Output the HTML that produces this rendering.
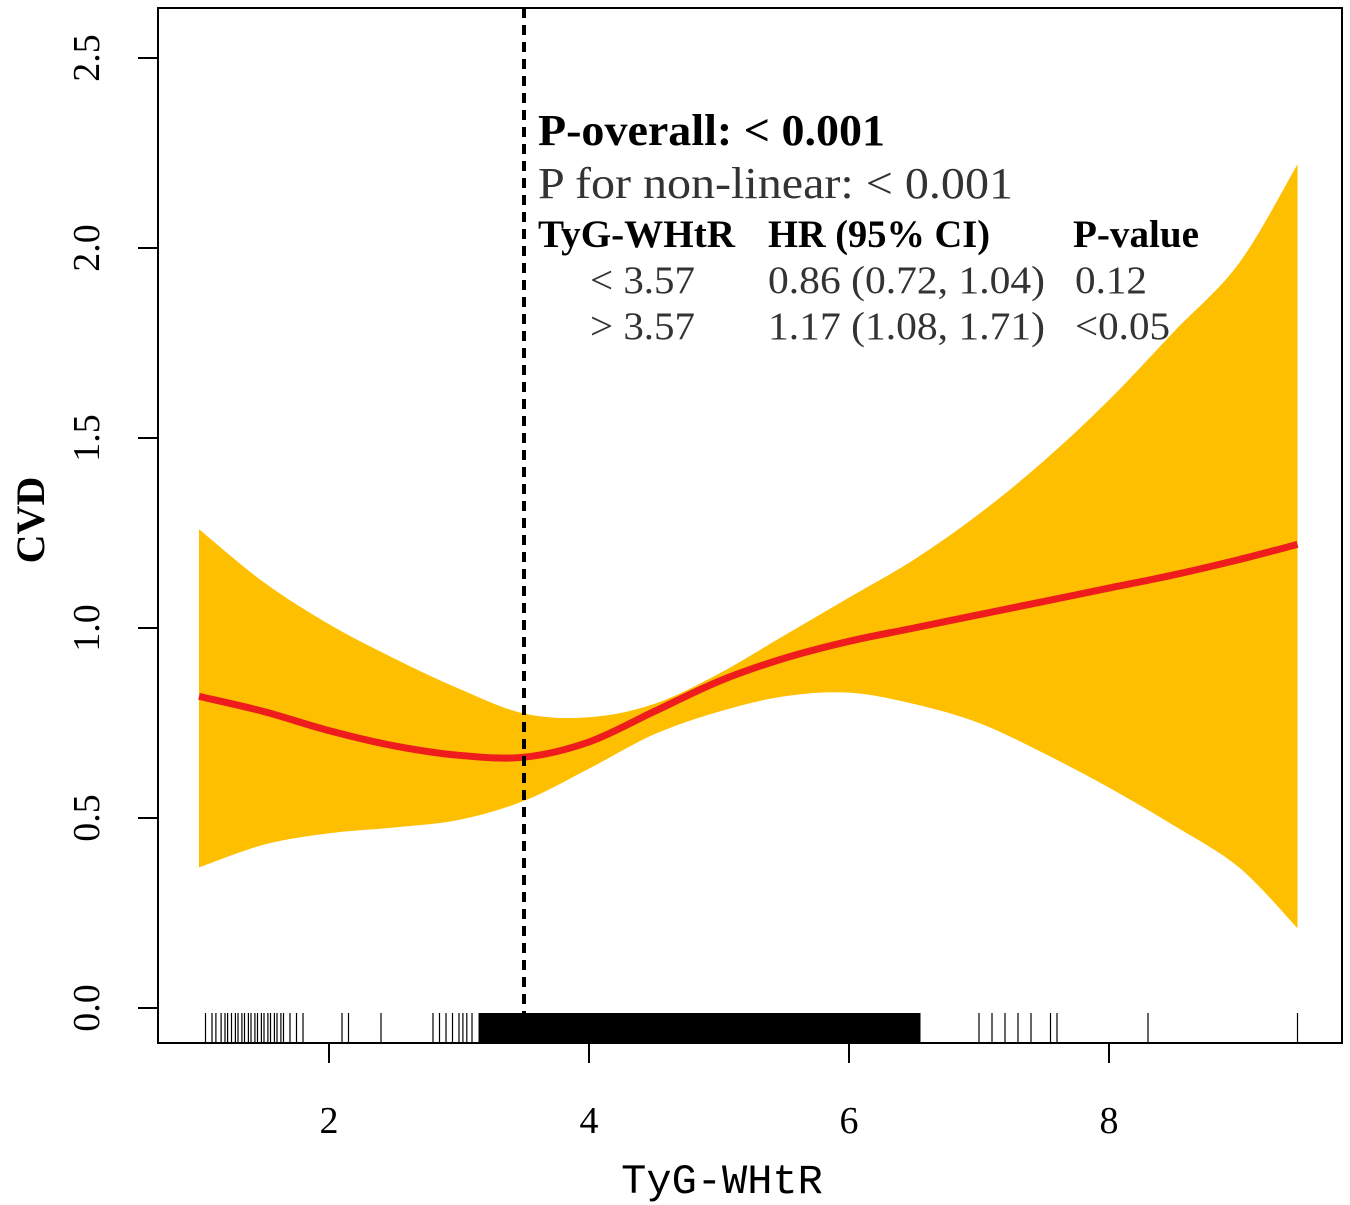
<!DOCTYPE html>
<html><head><meta charset="utf-8"><style>
body{margin:0;background:#fff;}
svg{display:block;font-family:"Liberation Serif",serif;}
</style></head><body>
<svg id="c" width="1350" height="1205"></svg>
<script>
const xs=[1.0,1.5,2.0,2.5,3.0,3.5,4.0,4.5,5.0,5.5,6.0,6.5,7.0,7.5,8.0,8.5,9.0,9.45];
const est=[0.82,0.78,0.73,0.69,0.665,0.66,0.70,0.78,0.86,0.92,0.965,1.00,1.035,1.07,1.105,1.14,1.18,1.22];
const upper=[1.26,1.12,1.01,0.92,0.84,0.775,0.765,0.80,0.88,0.98,1.08,1.18,1.30,1.44,1.60,1.78,1.96,2.22];
const lower=[0.37,0.43,0.46,0.475,0.495,0.545,0.63,0.72,0.78,0.82,0.83,0.80,0.75,0.67,0.58,0.48,0.37,0.21];
const xTicks=[2,4,6,8];
const yTicks=[0.0,0.5,1.0,1.5,2.0,2.5];
const rugSparse=[1.05,1.1,1.13,1.17,1.2,1.22,1.25,1.28,1.3,1.33,1.35,1.38,1.4,1.43,1.45,1.48,1.5,1.53,1.55,1.58,1.6,1.63,1.65,1.7,1.75,1.8,2.1,2.15,2.4,2.8,2.85,2.9,2.95,3.0,3.03,3.06,3.1,7.0,7.1,7.2,7.3,7.4,7.55,7.6,8.3,9.45];
const rugDense=[3.15,6.55];
const cutoff=3.5;
const X=v=>69+130*v, Y=v=>1008-380*v;
const s=document.getElementById('c'),NS='http://www.w3.org/2000/svg';
function el(t,a,p){const e=document.createElementNS(NS,t);for(const k in a)e.setAttribute(k,a[k]);(p||s).appendChild(e);return e;}
function spline(pts,start){
  let d=start?'M'+pts[0][0]+','+pts[0][1]:'L'+pts[0][0]+','+pts[0][1];
  for(let i=0;i<pts.length-1;i++){
    const p0=pts[Math.max(0,i-1)],p1=pts[i],p2=pts[i+1],p3=pts[Math.min(pts.length-1,i+2)];
    const c1=[p1[0]+(p2[0]-p0[0])/6,p1[1]+(p2[1]-p0[1])/6],c2=[p2[0]-(p3[0]-p1[0])/6,p2[1]-(p3[1]-p1[1])/6];
    d+=`C${c1[0]},${c1[1]} ${c2[0]},${c2[1]} ${p2[0]},${p2[1]}`;
  }
  return d;
}
const up=xs.map((x,i)=>[X(x),Y(upper[i])]);
const lo=xs.map((x,i)=>[X(x),Y(lower[i])]).reverse();
const band=el('path',{d:spline(up,true)+spline(lo,false)+'Z',fill:'#FDBF00'});


const line=el('path',{d:spline(xs.map((x,i)=>[X(x),Y(est[i])]),true),fill:'none',stroke:'#EE1C1C','stroke-width':7,'stroke-linejoin':'round'});


const cl=el('line',{x1:X(cutoff),x2:X(cutoff),y1:8,y2:1043,stroke:'#000','stroke-width':4,'stroke-dasharray':'10,7'});


rugSparse.forEach(v=>{const r=el('line',{x1:X(v),x2:X(v),y1:1013,y2:1043,stroke:'#000','stroke-width':1.2});

});
const rd=el('rect',{x:X(rugDense[0]),y:1013,width:X(rugDense[1])-X(rugDense[0]),height:30,fill:'#000'});


const fr=el('rect',{x:158,y:8,width:1184,height:1035,fill:'none',stroke:'#000','stroke-width':2});


xTicks.forEach(v=>{el('line',{x1:X(v),x2:X(v),y1:1043,y2:1063,stroke:'#000','stroke-width':2});
const t=el('text',{x:X(v),y:1133,'font-size':38,'text-anchor':'middle'});t.textContent=v;

});
yTicks.forEach(v=>{el('line',{x1:138,x2:158,y1:Y(v),y2:Y(v),stroke:'#000','stroke-width':2});
const t=el('text',{x:0,y:0,'font-size':38,'text-anchor':'middle',transform:`translate(99,${Y(v)}) rotate(-90)`});t.textContent=v.toFixed(1);

});
const xt=el('text',{x:722,y:1193,'font-size':42,'text-anchor':'middle','font-family':'Liberation Mono, monospace'});xt.textContent='TyG-WHtR';


const yt=el('text',{x:0,y:0,'font-size':40,'font-weight':'bold','text-anchor':'middle',transform:'translate(44,520) rotate(-90)'});yt.textContent='CVD';


const ann=[[538,145,44,'bold','P-overall: < 0.001','#000',347],[538,198,44,'normal','P for non-linear: < 0.001','#333',475],
[538,247,39,'bold','TyG-WHtR','#000',197],[768,247,39,'bold','HR (95% CI)','#000',222],[1073,247,39,'bold','P-value','#000',126],
[590,293,39,'normal','< 3.57','#333',105],[768,293,39,'normal','0.86 (0.72, 1.04)','#333',277],[1075,293,39,'normal','0.12','#333',72],
[590,339,39,'normal','> 3.57','#333',105],[768,339,39,'normal','1.17 (1.08, 1.71)','#333',277],[1075,339,39,'normal','<0.05','#333',95]];
ann.forEach(a=>{const t=el('text',{x:a[0],y:a[1],'font-size':a[2],'font-weight':a[3],fill:a[5],textLength:a[6],lengthAdjust:'spacingAndGlyphs'});t.textContent=a[4];

});
</script>
</body></html>
